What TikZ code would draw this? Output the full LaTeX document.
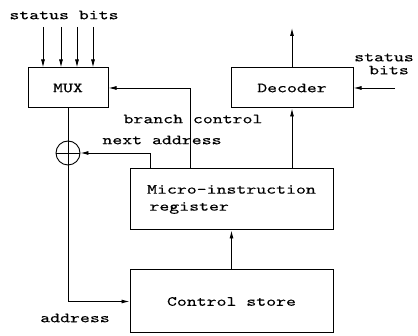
\documentclass[tikz,border=0pt]{standalone}
\usepackage{fontspec}
\newfontfamily\typefont[FakeStretch=1.35,FakeBold=0.25]{lmmono10-regular.otf}
\usetikzlibrary{positioning,arrows.meta}

\begin{document}
\begin{tikzpicture}[
  x=1pt, y=-1pt,
  every node/.style={font=\typefont\fontsize{14}{15}\selectfont},
  box/.style={draw,line width=1pt,inner sep=0pt},
  arr/.style={-{Latex[length=8pt,width=4pt]},line width=0.9pt},
  wire/.style={line width=0.9pt},
  lbl/.style={inner sep=0pt,align=center}
]
\useasboundingbox (0,0) rectangle (418,336);

\node[box, minimum width=80pt, minimum height=40pt] (mux) at (68,88) {MUX};
\node[box, minimum width=122pt, minimum height=40pt] (dec) at (292,88) {Decoder};
\node[box, minimum width=203pt, minimum height=61pt, align=left] (mir) at (231.5,199.5) {Micro-instruction\\[2pt]\,register};
\node[box, minimum width=203pt, minimum height=63pt] (cs) at (231.5,301.5) {Control store};
\node[draw, circle, line width=0.9pt, minimum size=24pt, inner sep=0pt] (sum) at (68,153) {};
\draw[line width=0.9pt] (sum.north) -- (sum.south) (sum.west) -- (sum.east);

\node[lbl] (sbl) at (64,15) {status bits};
\node[lbl] (sbr) at (384,64) {status\\[-2pt]\ bits};
\node[lbl] (bc) at (193,119) {branch control};
\node[lbl] (na) at (162,140) {next address};
\node[lbl] (ad) at (75,318) {address};

\coordinate (bcx) at (190,0);
\coordinate (nax) at (150,0);
\coordinate (out) at (292,28);
\coordinate (sin) at (395,88);

% status bits into the multiplexer
\foreach \x in {43,61,77,93}
  \draw[arr] (\x,27) -- (\x,27 |- mux.north);

\draw[arr] (mir.north -| bcx) |- (mux.east);
\draw[arr] (mir.north -| nax) |- (sum.east);
\draw[wire] (mux.south) -- (sum.north);
\draw[arr] (sum.south) |- (cs.west);
\draw[arr] (cs.north) -- (mir.south);
\draw[arr] (dec.south |- mir.north) -- (dec.south);
\draw[arr] (dec.north) -- (out);
\draw[arr] (sin) -- (dec.east);
\end{tikzpicture}
\end{document}
